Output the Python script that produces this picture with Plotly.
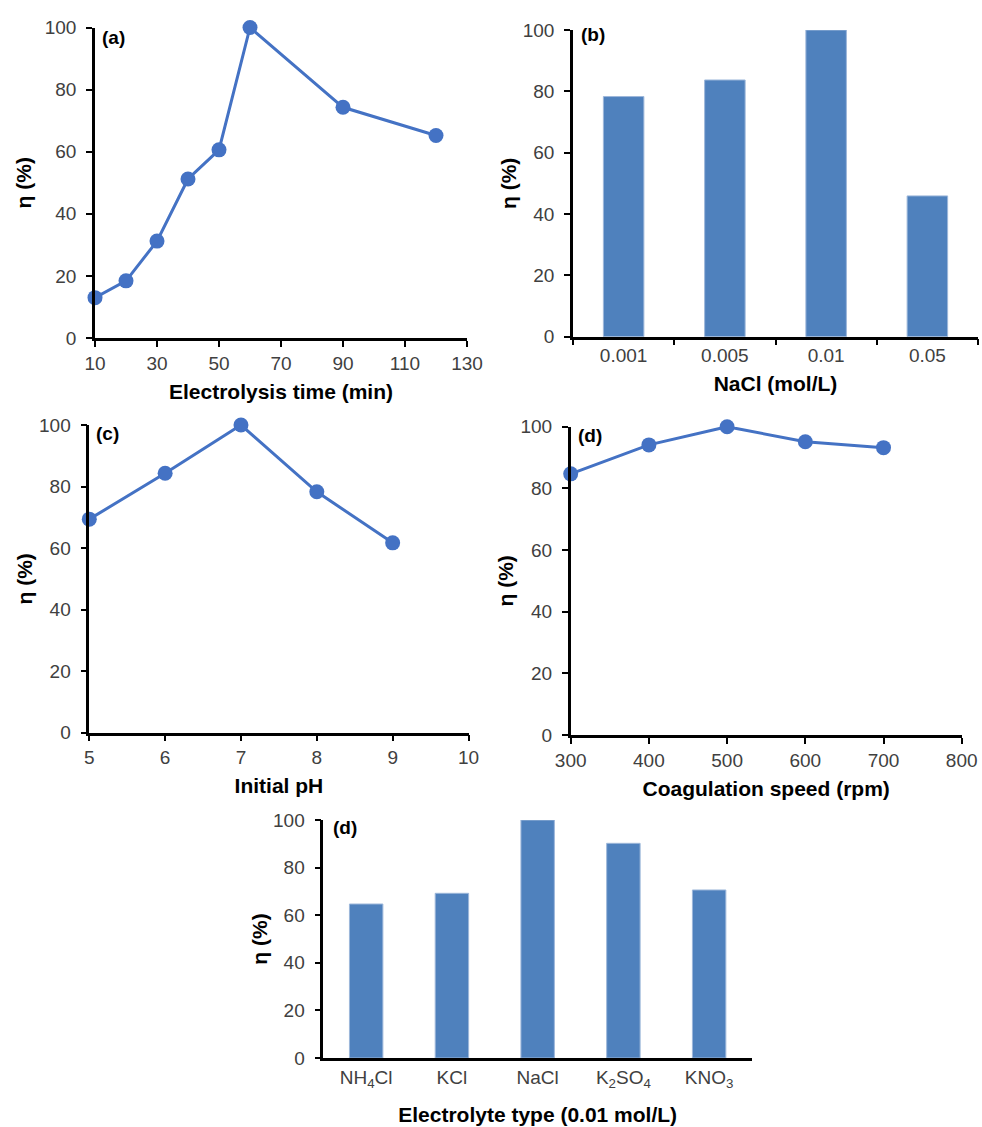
import plotly.graph_objects as go

# ---------------- data ----------------
time_min = [10, 20, 30, 40, 50, 60, 90, 120]
eta_time = [13.0, 18.4, 31.2, 51.2, 60.6, 100, 74.3, 65.2]

nacl_conc = ["0.001", "0.005", "0.01", "0.05"]
eta_nacl = [78.3, 83.7, 100, 45.9]

ph_values = [5, 6, 7, 8, 9]
eta_ph = [69.4, 84.3, 100, 78.3, 61.7]

speed_rpm = [300, 400, 500, 600, 700]
eta_speed = [84.7, 94.1, 100, 95.1, 93.2]

electrolytes = ["NH<sub>4</sub>Cl", "KCl", "NaCl", "K<sub>2</sub>SO<sub>4</sub>", "KNO<sub>3</sub>"]
eta_electrolyte = [64.7, 69.2, 100, 90.2, 70.6]

panel_labels = ["(a)", "(b)", "(c)", "(d)", "(d)"]
x_titles = ["Electrolysis time (min)", "NaCl (mol/L)", "Initial pH",
            "Coagulation speed (rpm)", "Electrolyte type (0.01 mol/L)"]
y_title = "η (%)"

# ---------------- styling ----------------
W, H = 982, 1127
FONT = "Liberation Sans, Arial, sans-serif"
LINE_COLOR = "#4472C4"
BAR_COLOR = "#4F81BD"


def xd(a, b):
    return [a / W, b / W]


def yd(top, bottom):
    return [1 - bottom / H, 1 - top / H]


fig = go.Figure()

line_style = dict(color=LINE_COLOR, width=3)
marker_style = dict(color=LINE_COLOR, size=15)

fig.add_trace(go.Scatter(x=time_min, y=eta_time, mode="lines+markers", line=line_style,
                         marker=marker_style, cliponaxis=False, xaxis="x", yaxis="y"))
fig.add_trace(go.Bar(x=nacl_conc, y=eta_nacl, width=0.4,
                     marker=dict(color=BAR_COLOR, line=dict(color="#9DB7DA", width=1)),
                     xaxis="x2", yaxis="y2"))
fig.add_trace(go.Scatter(x=ph_values, y=eta_ph, mode="lines+markers", line=line_style,
                         marker=marker_style, cliponaxis=False, xaxis="x3", yaxis="y3"))
fig.add_trace(go.Scatter(x=speed_rpm, y=eta_speed, mode="lines+markers", line=line_style,
                         marker=marker_style, cliponaxis=False, xaxis="x4", yaxis="y4"))
fig.add_trace(go.Bar(x=electrolytes, y=eta_electrolyte, width=0.39,
                     marker=dict(color=BAR_COLOR, line=dict(color="#9DB7DA", width=1)),
                     xaxis="x5", yaxis="y5"))

common = dict(showline=True, linecolor="black", linewidth=2.5, ticks="outside",
              ticklen=6, tickwidth=2, tickcolor="black", showgrid=False, zeroline=False,
              automargin=False,
              tickfont=dict(family=FONT, size=19, color="#404040"))
title_font = dict(family=FONT, size=21, color="black", weight="bold")

yax = dict(common, range=[0, 100], dtick=20, tick0=0)


def ttl(text, standoff):
    return dict(text=text, font=title_font, standoff=standoff)


# domains (pixel estimates)
doms = [
    (xd(95, 467), yd(27.5, 338)),
    (xd(573, 978), yd(30, 336.7)),
    (xd(89.3, 468.5), yd(425, 732.7)),
    (xd(570.7, 961.7), yd(426.7, 735)),
    (xd(323.3, 752), yd(820, 1058)),
]

fig.update_layout(
    width=W, height=H, margin=dict(l=0, r=0, t=0, b=0, autoexpand=False),
    paper_bgcolor="white", plot_bgcolor="white", showlegend=False,
    font=dict(family=FONT),
    xaxis=dict(common, domain=doms[0][0], anchor="y", range=[10, 130], dtick=20, tick0=10,
               ticklabelstandoff=0, title=ttl(x_titles[0], 12)),
    yaxis=dict(yax, domain=doms[0][1], anchor="x", ticklabelstandoff=6,
               title=ttl(y_title, 8)),
    xaxis2=dict(common, domain=doms[1][0], anchor="y2", tickson="boundaries",
                ticklabelstandoff=0, title=ttl(x_titles[1], 12)),
    yaxis2=dict(yax, domain=doms[1][1], anchor="x2", ticklabelstandoff=6,
                title=ttl(y_title, 1)),
    xaxis3=dict(common, domain=doms[2][0], anchor="y3", range=[5, 10], dtick=1, tick0=5,
                ticklabelstandoff=0, title=ttl(x_titles[2], 12)),
    yaxis3=dict(yax, domain=doms[2][1], anchor="x3", ticklabelstandoff=6,
                title=ttl(y_title, 1)),
    xaxis4=dict(common, domain=doms[3][0], anchor="y4", range=[300, 800], dtick=100, tick0=300,
                ticklabelstandoff=0, title=ttl(x_titles[3], 12)),
    yaxis4=dict(yax, domain=doms[3][1], anchor="x4", ticklabelstandoff=6,
                title=ttl(y_title, 2)),
    xaxis5=dict(common, domain=doms[4][0], anchor="y5", ticks="",
                ticklabelstandoff=0, title=ttl(x_titles[4], 18)),
    yaxis5=dict(yax, domain=doms[4][1], anchor="x5", ticklabelstandoff=6,
                title=ttl(y_title, 0)),
)

# panel labels
label_pos = [(100, 37), (579, 35), (94, 433), (576, 435), (331, 827)]
for lab, (px, py) in zip(panel_labels, label_pos):
    fig.add_annotation(x=px / W, y=1 - py / H, xref="paper", yref="paper",
                       text=lab, showarrow=False, xanchor="left", yanchor="middle",
                       font=dict(family=FONT, size=19, color="black", weight="bold"))

fig.write_html("out.html", config={"displayModeBar": False},
               post_script="document.body.style.margin='0';document.body.style.padding='0';")
